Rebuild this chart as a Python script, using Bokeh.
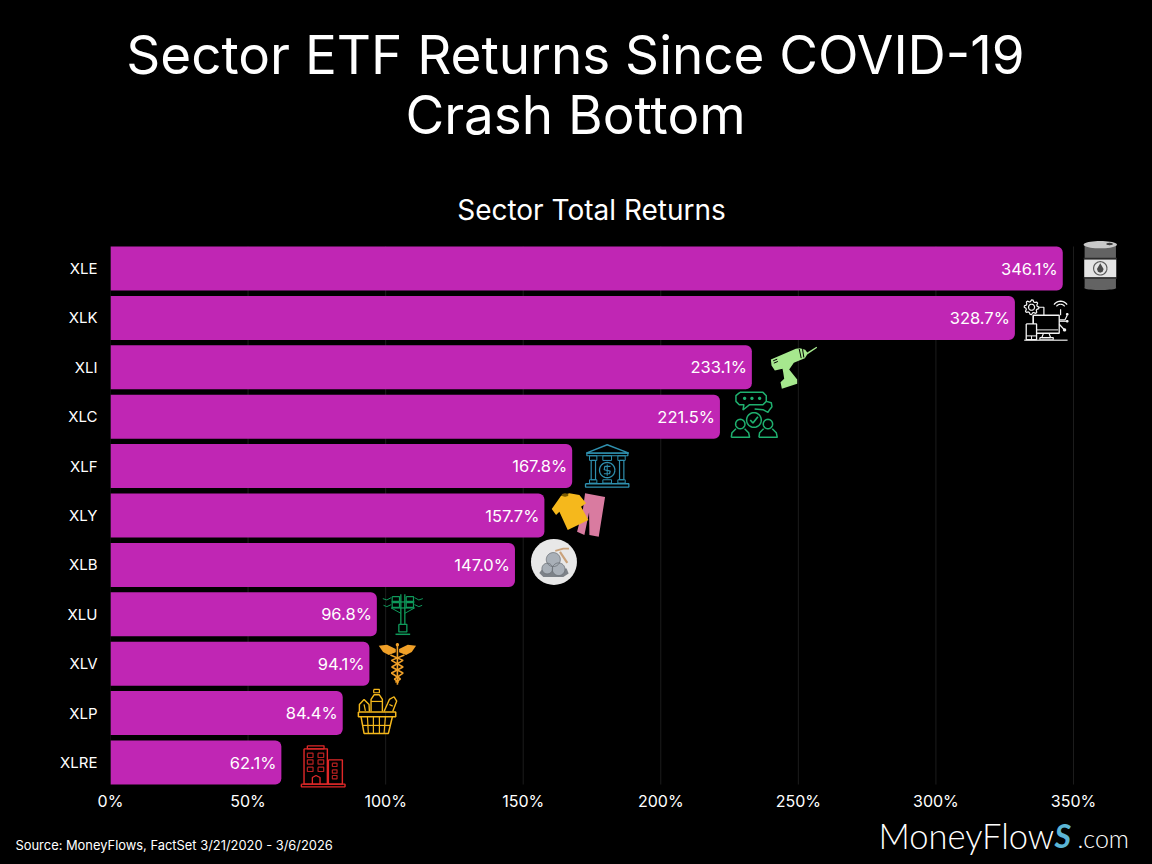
import numpy as np
from bokeh.plotting import figure
from bokeh.models import (ColumnDataSource, Range1d, FixedTicker, PrintfTickFormatter)
from bokeh.core.properties import value
from bokeh.embed import file_html
from bokeh.resources import INLINE

# ---- data -------------------------------------------------------------
tickers = ["XLE", "XLK", "XLI", "XLC", "XLF", "XLY", "XLB", "XLU", "XLV", "XLP", "XLRE"]
returns = [346.1, 328.7, 233.1, 221.5, 167.8, 157.7, 147.0, 96.8, 94.1, 84.4, 62.1]
x_ticks = [0, 50, 100, 150, 200, 250, 300, 350]
title_lines = ["Sector ETF Returns Since COVID-19", "Crash Bottom"]
subtitle = "Sector Total Returns"
source_note = "Source: MoneyFlows, FactSet 3/21/2020 - 3/6/2026"

# ---- layout -----------------------------------------------------------
FONT = "Inter"
W, H = 1152, 864
F_L, F_R, F_T, F_B = 110, 1144, 235, 790   # frame in page pixels
MAIN_BOTTOM = 814                           # page y where the footer strip starts
X_END = (F_R - F_L) / 963 * 350
ROW0, STEP = 268, 49.4           # first row centre, row pitch (page pixels)
BAR_COLOR = "#c026b4"
rows = list(range(len(tickers)))

p = figure(width=W, height=MAIN_BOTTOM - F_T, output_backend="svg", toolbar_location=None,
           x_range=Range1d(0, X_END),
           y_range=Range1d((F_B - ROW0) / STEP, (F_T - ROW0) / STEP),
           background_fill_color="#000000", border_fill_color="#000000",
           outline_line_color=None,
           min_border_left=F_L, min_border_right=W - F_R,
           min_border_top=0, min_border_bottom=MAIN_BOTTOM - F_B)
p.extra_x_ranges["px_x"] = Range1d(F_L, F_R)
p.extra_y_ranges["px_y"] = Range1d(F_B, F_T)

p.grid.visible = False
xa, ya = p.xaxis[0], p.yaxis[0]
xa.ticker = FixedTicker(ticks=x_ticks)
xa.formatter = PrintfTickFormatter(format="%d%%")
ya.ticker = FixedTicker(ticks=rows)
ya.major_label_overrides = dict(zip(rows, tickers))
for a in (xa, ya):
    a.axis_line_color = None
    a.major_tick_line_color = None
    a.minor_tick_line_color = None
    a.major_tick_out = 0
    a.major_tick_in = 0
    a.major_label_text_color = "#ffffff"
    a.major_label_text_font = FONT
    a.major_label_text_font_size = "16px"
ya.major_label_text_font_size = "15px"
xa.major_label_standoff = 0
ya.major_label_standoff = 13

# gridlines stop at the bars' outer edges
TOP_BAR, BOTTOM_BAR = 246, 784
p.segment(x_ticks, [TOP_BAR] * len(x_ticks), x_ticks, [BOTTOM_BAR] * len(x_ticks),
          y_range_name="px_y", line_color="#1c1c1c", line_width=1, level="underlay")

src = ColumnDataSource(dict(t=rows, v=returns, lab=[f"{r:.1f}%" for r in returns]))
p.hbar(y="t", right="v", left=0, height=0.89, source=src, fill_color=BAR_COLOR,
       line_color=None, border_radius=(0, 6, 6, 0))
p.text(x="v", y="t", text="lab", source=src, x_offset=-5, text_align="right",
       text_baseline="middle", text_color="#ffffff", text_font=value(FONT),
       text_font_size="16.5px")


# ---- icons (local outlines, drawn beside each bar's end) --------------
def ell(cx, cy, rx, ry=None, a0=0, a1=360):
    ry = rx if ry is None else ry
    t = np.radians(np.linspace(a0, a1, 41))
    return list(zip(cx + rx * np.cos(t), cy + ry * np.sin(t)))


def rect(x0, y0, x1, y1):
    return [(x0, y0), (x1, y0), (x1, y1), (x0, y1), (x0, y0)]


def gear(cx, cy, r, tooth, n=8):
    t = np.radians(np.linspace(0, 360, n * 4 + 1))
    rr = np.where(np.arange(n * 4 + 1) % 4 < 2, r + tooth, r)
    return list(zip(cx + rr * np.cos(t), cy + rr * np.sin(t)))


def draw_icon(ticker, dx, dy, center, ops):
    i = tickers.index(ticker)
    cx = F_L + returns[i] * 963 / 350 + dx
    cy = ROW0 + i * STEP + dy
    for kind, color, pts, *rest in ops:
        xs = [float(cx + (q[0] - center[0]) / 3) for q in pts]
        ys = [float(cy + (q[1] - center[1]) / 3) for q in pts]
        kw = dict(x_range_name="px_x", y_range_name="px_y", level="overlay")
        if kind == "f":
            p.patch(xs, ys, fill_color=color, line_color=None, **kw)
        else:
            p.line(xs, ys, line_color=color, line_width=rest[0] if rest else 1.3, **kw)


GR = "#636363"
barrel = [
    ("f", GR, rect(-47, -62, 47, 66)),
    ("f", "#e4e4e4", rect(-48, -20, 48, 34)),
    ("f", "#c9c9c9", ell(0, -64, 50, 11)),
    ("f", "#3a3a3a", ell(28, -66, 10, 3.5)),
    ("f", GR, ell(0, 66, 48, 6)),
    ("l", "#2a2a2a", [(-50, -22), (50, -22)], 1.6),
    ("l", "#2a2a2a", [(-50, 36), (50, 36)], 1.6),
    ("l", "#5a5a5a", ell(0, 7, 20), 1.2),
    ("f", "#4a4a4a", [(0, -8), (10, 9), (7, 17), (0, 20), (-7, 17), (-10, 9), (0, -8)]),
]
W_ = "#f4f4f4"
tech = [
    ("l", W_, rect(220, 258, 298, 312), 1.3),
    ("l", W_, [(225, 302), (295, 302)], 1.0),
    ("l", W_, [(250, 314), (246, 325), (272, 325), (268, 314)], 1.2),
    ("l", W_, rect(240, 325, 280, 332), 1.2),
    ("l", "#bbbbbb", [(193, 333), (323, 333)], 1.4),
    ("f", "#000000", rect(199, 284, 230, 331)),
    ("l", W_, rect(199, 284, 230, 331), 1.3),
    ("l", W_, [(199, 320), (230, 320)], 1.0),
    ("l", W_, [(215, 320), (215, 331)], 1.0),
    ("l", W_, gear(215, 234, 17, 5), 1.2),
    ("l", W_, ell(215, 234, 9), 1.2),
    ("l", W_, [(236, 234), (252, 234), (252, 258)], 1.2),
    ("l", W_, [(220, 258), (220, 284)], 1.2),
    ("l", W_, ell(302, 240, 24, 24, 215, 325), 1.3),
    ("l", W_, ell(302, 240, 15, 15, 215, 325), 1.2),
    ("l", W_, [(302, 240), (302, 258)], 1.2),
    ("l", W_, [(298, 272), (315, 272), (322, 258)], 1.2),
    ("l", W_, [(298, 276), (322, 276)], 1.2),
    ("l", W_, [(298, 285), (312, 300)], 1.2),
    ("f", W_, ell(322, 255, 4)),
    ("f", W_, ell(322, 276, 4)),
    ("f", W_, ell(314, 302, 5)),
]
DR = "#a6e88e"
drill = [
    ("f", DR, [(153, 62), (228, 30), (240, 28), (256, 33), (262, 41), (290, 24), (292, 27),
               (262, 47), (255, 58), (240, 64), (222, 72), (208, 92), (232, 122), (232, 135),
               (186, 150), (182, 130), (193, 120), (190, 100), (188, 90), (165, 95), (155, 80)]),
    ("l", "#000000", [(160, 66), (172, 61)], 1.0),
    ("l", "#000000", [(162, 73), (174, 68)], 1.0),
    ("l", "#000000", [(238, 30), (244, 58)], 1.0),
    ("l", "#000000", [(248, 31), (252, 56)], 1.0),
]
GN = "#1fb06f"
people = [
    ("l", GN, [(56, 155), (125, 155), (135, 165), (135, 182), (125, 192), (85, 192), (65, 208),
               (68, 192), (54, 192), (44, 182), (44, 165), (56, 155)], 1.5),
    ("l", GN, [(135, 182), (150, 186), (152, 198), (145, 207), (140, 215), (125, 207), (100, 205)], 1.5),
    ("f", GN, ell(70, 173, 5)),
    ("f", GN, ell(92, 173, 5)),
    ("f", GN, ell(115, 173, 5)),
    ("l", GN, ell(98, 238, 22), 1.5),
    ("l", GN, [(87, 238), (95, 247), (110, 228)], 1.7),
    ("l", GN, ell(57, 250, 14), 1.5),
    ("l", GN, ell(140, 250, 14), 1.5),
    ("l", GN, [(30, 290), (32, 276), (44, 264)], 1.5),
    ("l", GN, [(70, 264), (82, 276), (85, 290), (30, 290)], 1.5),
    ("l", GN, [(113, 290), (115, 276), (127, 264)], 1.5),
    ("l", GN, [(153, 264), (165, 276), (168, 290), (113, 290)], 1.5),
]
TL = "#2f8fae"
bank = [
    ("l", TL, [(260, 36), (323, 11), (388, 36), (260, 36)], 1.4),
    ("l", TL, rect(262, 36, 385, 44), 1.2),
    ("l", TL, rect(270, 44, 292, 58), 1.0),
    ("l", TL, rect(275, 58, 288, 116), 1.2),
    ("l", TL, rect(270, 116, 292, 126), 1.0),
    ("l", TL, rect(355, 44, 377, 58), 1.0),
    ("l", TL, rect(360, 58, 373, 116), 1.2),
    ("l", TL, rect(355, 116, 377, 126), 1.0),
    ("l", TL, rect(310, 44, 336, 58), 1.0),
    ("l", TL, rect(310, 116, 336, 126), 1.0),
    ("l", TL, ell(323, 87, 23), 1.3),
    ("l", TL, [(333, 76), (316, 76), (314, 86), (332, 90), (330, 98), (313, 98)], 1.2),
    ("l", TL, [(323, 70), (323, 104)], 1.0),
    ("l", TL, rect(258, 128, 388, 138), 1.3),
]
SH, PK = "#f5b81c", "#d97ba0"
clothes = [
    ("f", PK, [(252, 165), (312, 176), (293, 295), (265, 290), (264, 222), (250, 290), (228, 280),
               (246, 210)]),
    ("f", SH, [(152, 212), (180, 172), (205, 165), (235, 170), (255, 195), (240, 205), (262, 245),
               (200, 275), (175, 220), (165, 230)]),
    ("f", "#7a5a00", ell(192, 170, 10, 5)),
]
ROCK = "#a9b0b8"
rocks = [
    ("f", "#e8e8e8", ell(162, 365, 69)),
    ("l", "#caa27a", [(180, 335), (202, 368)], 2.2),
    ("l", "#caa27a", [(166, 332), (190, 325), (207, 325)], 1.8),
    ("f", "#7d8288", [(118, 398), (128, 385), (200, 385), (206, 400), (190, 410), (130, 410)]),
    ("f", ROCK, ell(160, 358, 21)),
    ("f", ROCK, ell(142, 385, 16)),
    ("f", ROCK, ell(176, 387, 19)),
    ("l", "#6a6f75", ell(160, 358, 21), 0.8),
    ("l", "#6a6f75", ell(142, 385, 16), 0.8),
    ("l", "#6a6f75", ell(176, 387, 19), 0.8),
]
TW = "#0f9a5b"
tower = [
    ("l", TW, [(424, 15), (424, 105)], 1.3),
    ("l", TW, [(436, 15), (436, 105)], 1.3),
    ("l", TW, rect(398, 22, 420, 36), 1.2),
    ("l", TW, rect(440, 22, 462, 36), 1.2),
    ("l", TW, rect(398, 40, 420, 54), 1.2),
    ("l", TW, rect(440, 40, 462, 54), 1.2),
    ("l", TW, [(395, 38), (465, 38)], 1.2),
    ("l", TW, [(395, 56), (465, 56)], 1.2),
    ("l", TW, [(395, 56), (424, 72)], 1.0),
    ("l", TW, [(465, 56), (436, 72)], 1.0),
    ("l", TW, [(370, 28), (382, 32), (395, 25)], 1.0),
    ("l", TW, [(372, 48), (382, 52), (395, 46)], 1.0),
    ("l", TW, [(465, 25), (478, 32), (490, 28)], 1.0),
    ("l", TW, [(465, 46), (478, 52), (488, 48)], 1.0),
    ("l", TW, rect(418, 105, 442, 128), 1.3),
    ("l", TW, [(408, 135), (452, 135)], 1.5),
]
OR = "#f0a028"
cad = [
    ("f", OR, [(355, 168), (380, 165), (406, 178), (406, 188), (385, 196), (368, 187)]),
    ("f", OR, [(467, 168), (442, 165), (416, 178), (416, 188), (437, 196), (454, 187)]),
    ("l", OR, [(411, 165), (411, 285)], 1.6),
    ("f", OR, ell(411, 165, 5)),
    ("l", OR, [(432, 196), (393, 212), (428, 232), (393, 250), (420, 268), (405, 278)], 1.6),
    ("l", OR, [(390, 196), (428, 212), (394, 232), (428, 250), (402, 268), (415, 278)], 1.6),
]
basket = [
    ("l", SH, rect(295, 358, 407, 372), 1.5),
    ("l", SH, [(303, 372), (312, 422), (385, 422), (397, 372)], 1.5),
    ("l", SH, [(306, 398), (392, 398)], 1.2),
    ("l", SH, [(322, 372), (325, 422)], 1.2),
    ("l", SH, [(340, 372), (340, 422)], 1.2),
    ("l", SH, [(358, 372), (358, 422)], 1.2),
    ("l", SH, [(376, 372), (372, 422)], 1.2),
    ("l", SH, rect(341, 290, 358, 300), 1.2),
    ("l", SH, [(333, 356), (333, 320), (342, 306), (358, 306), (367, 320), (367, 356)], 1.4),
    ("l", SH, [(333, 326), (367, 326)], 1.2),
    ("l", SH, [(298, 356), (298, 335), (312, 320), (327, 335), (328, 356)], 1.4),
    ("l", SH, [(372, 356), (388, 320), (402, 312), (410, 325), (398, 356)], 1.4),
    ("l", SH, [(312, 335), (316, 354)], 1.2),
    ("l", SH, [(388, 335), (398, 340)], 1.2),
]
RD = "#e02828"
win = [(140, 485), (172, 485), (140, 505), (172, 505), (140, 527), (172, 527)]
win2 = [(215, 515), (215, 535), (215, 552)]
bldg = [
    ("l", RD, rect(130, 472, 200, 578), 1.4),
    ("l", RD, rect(140, 463, 190, 472), 1.3),
    ("l", RD, rect(203, 505, 245, 578), 1.4),
    ("l", RD, rect(122, 578, 253, 586), 1.4),
    ("l", RD, [(155, 578), (155, 558), (166, 552), (178, 558), (178, 578)], 1.3),
] + [("l", "#b82020", rect(a, b, a + 17, b + 13), 1.2) for a, b in win] \
  + [("l", "#b82020", rect(a, b, a + 14, b + 10), 1.2) for a, b in win2]

draw_icon("XLE", 37.5, -2.5, (0, 0), barrel)
draw_icon("XLK", 31, 2, (258, 272), tech)
draw_icon("XLI", 42, -0.5, (222, 84), drill)
draw_icon("XLC", 34, -2, (98, 222), people)
draw_icon("XLF", 35, 0, (323, 75), bank)
draw_icon("XLY", 34, -0.5, (232, 230), clothes)
draw_icon("XLB", 39, -3, (162, 365), rocks)
draw_icon("XLU", 26, 0, (430, 75), tower)
draw_icon("XLV", 28, 0, (411, 222), cad)
draw_icon("XLP", 34, -1, (350, 358), basket)
draw_icon("XLRE", 42, 4, (188, 525), bldg)


# ---- header and footer strips: text figures with pixel ranges ----------
def strip(y0, y1):
    f = figure(width=W, height=y1 - y0, output_backend="svg", toolbar_location=None,
               x_range=Range1d(0, W), y_range=Range1d(y1, y0),
               x_axis_location=None, y_axis_location=None,
               background_fill_color="#000000", border_fill_color="#000000",
               outline_line_color=None, min_border=0)
    f.grid.visible = False
    return f


def lab(f, txt, x, y, size, align="left", font=FONT, color="#ffffff", style="normal"):
    f.text([x], [y], text=[txt], text_font=value(font), text_font_size=size, text_color=color,
           text_align=align, text_baseline="middle", text_font_style=style)


head = strip(0, F_T)
lab(head, title_lines[0], 575, 54, "53px", "center")
lab(head, title_lines[1], 575, 114, "53px", "center")
lab(head, subtitle, 591, 209, "28px", "center")

foot = strip(MAIN_BOTTOM, H)
lab(foot, source_note, 15, 845, "12.9px")
lab(foot, "MoneyFlow", 878, 835, "34.5px", font="Lato Light, Lato")
lab(foot, "S", 1054, 835, "32px", color="#5bb5d5", style="bold italic", font="Lato")
lab(foot, ".com", 1077, 837, "25px", font="Lato Light, Lato")

# three separate roots, stacked on the page, so their frames stay independent
html = file_html([head, p, foot], INLINE).replace(
    "</head>", "<style>html,body{background:#000}</style></head>")
open("out.html", "w").write(html)
